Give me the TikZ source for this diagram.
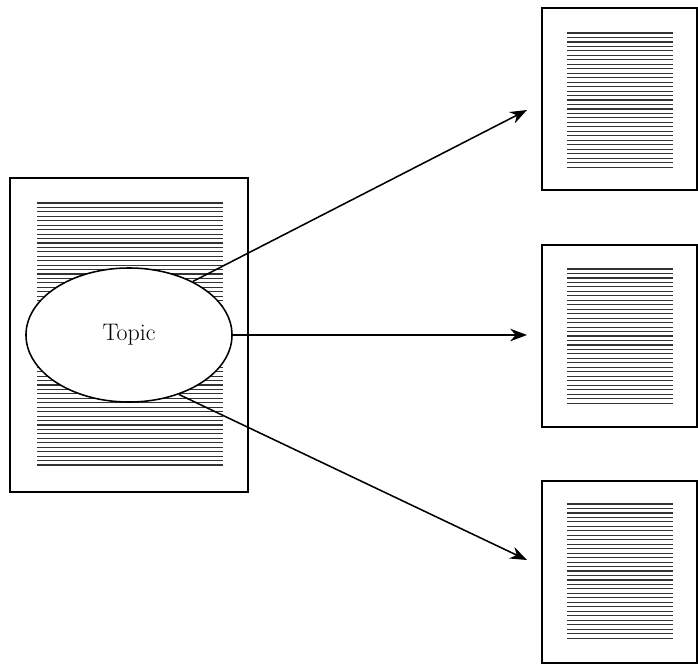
\documentclass[tikz,border=0pt]{standalone}
\usepackage{amssymb,amsmath}
\usepackage{tikz}
\usetikzlibrary{shapes,arrows,arrows.meta}
\tikzstyle{page} = [draw, line width=1.1pt, inner sep=0pt]
\tikzstyle{bigpage} = [page, minimum width=5.95cm, minimum height=7.85cm]
\tikzstyle{smallpage} = [page, minimum width=3.875cm, minimum height=4.55cm]
\tikzstyle{topic} = [draw, ellipse, fill=white, line width=1.1pt, inner sep=0pt,
  minimum width=5.15cm, minimum height=3.35cm, font=\fontsize{17}{20}\selectfont]
\tikzstyle{textline} = [draw=black!80, line width=0.8pt]
\tikzstyle{link} = [draw, line width=1.1pt, -{Stealth[length=12pt,width=9pt]}]

\begin{document}
\begin{tikzpicture}[x=0.025cm, y=-0.025cm]
\useasboundingbox (0,0) rectangle (698,664);

% source document with its lines
\node[bigpage] (source) at (129,335) {};
\foreach \i in {0,...,59}
  \draw[textline] (37,{203+\i*4.44}) -- (223,{203+\i*4.44});

% target documents
\node[smallpage] (top) at (619.5,99) {};
\node[smallpage] (mid) at (619.5,336) {};
\node[smallpage] (bot) at (619.5,572) {};
\foreach \y in {33,269,504}
  \foreach \i in {0,...,30}
    \draw[textline] (567,{\y+\i*4.47}) -- (673,{\y+\i*4.47});

\node[topic] (topic) at (129,335) {Topic};

\coordinate (tiptop) at (527,110);
\coordinate (tipmid) at (527,335);
\coordinate (tipbot) at (527,560);

\path
(topic.40) edge [link] (tiptop)
(topic.east) edge [link] (tipmid)
(topic.-50) edge [link] (tipbot);

\end{tikzpicture}
\end{document}
